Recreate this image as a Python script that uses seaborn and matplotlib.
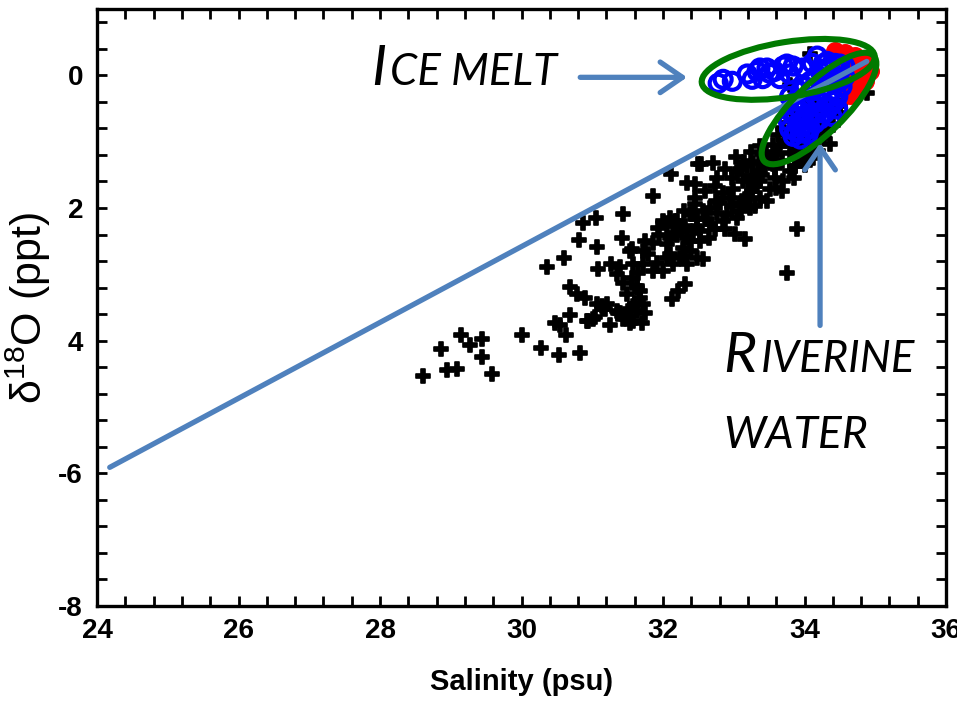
import matplotlib
matplotlib.use("Agg")
import matplotlib.pyplot as plt
import seaborn as sns
import pandas as pd
from matplotlib.patches import Ellipse
from matplotlib.transforms import ScaledTranslation
from matplotlib.ticker import MultipleLocator
from matplotlib.offsetbox import TextArea, HPacker, AnnotationBbox
from matplotlib import font_manager as fm

# ---------------- data ----------------
black_sal = [28.61, 28.86, 28.95, 29.09, 29.14, 29.27, 29.44, 29.44, 29.58, 30.01,
             30.28, 30.53, 30.83, 30.47, 30.54, 30.63, 30.69, 30.93, 31.04, 31.14,
             31.25, 31.36, 31.49, 31.58, 31.70, 31.63, 31.75, 30.36, 30.60, 30.81,
             30.87, 31.05, 31.43, 31.07, 31.42, 31.86, 32.11, 32.49, 32.34, 32.45,
             30.69, 30.78, 30.90, 31.07, 31.15, 31.08, 31.27, 31.39, 31.35, 31.43,
             31.49, 31.56, 31.58, 31.65, 31.63, 31.67, 31.53, 31.75, 31.86, 31.79,
             31.86, 32.00, 32.10, 31.93, 32.06, 32.10, 32.20, 32.31, 32.06, 32.14,
             32.24, 32.34, 32.38, 32.41, 32.45, 32.48, 32.13, 32.21, 32.31, 31.39,
             31.53, 31.60, 31.35, 31.18, 30.94, 31.01, 31.43, 31.53, 31.72, 31.56,
             31.72, 31.92, 32.00, 31.63, 31.67, 31.21, 31.58, 31.72, 32.28, 32.52,
             32.66, 32.52, 32.42, 32.34, 32.14, 32.27, 32.17, 32.48, 32.57, 32.31,
             32.10, 33.02, 33.16, 33.89, 33.75, 32.54, 32.71, 33.03, 32.88, 32.98,
             32.76, 32.73, 32.85, 32.99, 33.13, 33.26, 33.30, 33.19, 33.09, 32.98,
             32.81, 32.66, 32.57, 32.38, 32.48, 32.62, 32.76, 32.90, 33.05, 33.23,
             33.37, 33.47, 33.51, 33.68, 33.58, 33.70, 33.55, 33.47, 33.40, 33.61,
             33.27, 33.19, 34.08, 34.50, 34.88, 34.36, 34.26, 33.94, 33.79, 33.34,
             33.44, 33.51, 33.65, 33.72, 33.79, 33.87, 34.01, 34.15, 34.22, 34.33,
             34.43, 34.33, 34.15, 34.01, 33.91, 33.79, 33.68, 33.58, 33.37, 33.26,
             33.16, 33.09, 33.37, 33.82, 34.05, 34.11, 33.94, 33.79, 33.30, 32.73,
             32.88, 34.61, 34.71, 34.57, 34.19, 34.05, 33.87,
             33.05, 33.15, 33.25, 33.35, 33.45, 33.55, 33.62, 33.70, 33.85, 33.95,
             34.05, 34.15, 33.20, 33.40, 33.60, 33.85, 34.00, 34.12, 34.28, 34.40,
             32.95, 33.10, 32.75, 32.60, 32.45, 32.30, 32.20, 32.05, 31.95, 32.40,
             32.65, 32.85]
black_d18o = [-4.53, -4.12, -4.44, -4.42, -3.92, -4.06, -3.98, -4.24, -4.50, -3.91,
              -4.11, -4.21, -4.18, -3.74, -3.77, -3.91, -3.62, -3.71, -3.65, -3.47,
              -3.76, -3.59, -3.67, -3.71, -3.74, -3.55, -3.59, -2.89, -2.75, -2.48,
              -2.23, -2.15, -2.09, -2.59, -2.45, -1.82, -1.49, -1.34, -1.62, -1.64,
              -3.19, -3.29, -3.35, -3.44, -3.50, -2.92, -2.84, -2.89, -2.99, -3.13,
              -3.29, -3.05, -2.84, -2.98, -3.17, -3.25, -2.65, -2.50, -2.53, -2.69,
              -2.95, -2.20, -2.15, -2.30, -2.27, -2.45, -2.20, -2.27, -2.75, -2.84,
              -2.75, -2.84, -2.50, -2.09, -1.94, -2.30, -3.37, -3.25, -3.14, -3.59,
              -3.52, -3.44, -3.55, -3.52, -3.70, -3.67, -3.67, -3.74, -2.65, -2.62,
              -2.84, -2.83, -2.95, -3.20, -3.35, -3.44, -3.47, -3.44, -2.60, -2.35,
              -2.24, -2.50, -2.35, -2.45, -2.39, -2.32, -2.20, -2.75, -2.77, -2.72,
              -2.69, -2.39, -2.47, -2.32, -2.98, -1.34, -1.32, -1.23, -1.41, -1.55,
              -1.55, -1.67, -1.77, -1.71, -1.59, -1.52, -1.67, -1.82, -1.92, -1.97,
              -1.92, -2.00, -2.05, -2.09, -2.17, -2.17, -2.08, -2.09, -2.15, -2.00,
              -1.85, -1.89, -1.71, -1.74, -1.55, -1.59, -1.34, -1.25, -1.19, -1.19,
              -1.32, -1.37, 0.32, -0.57, -0.27, -1.04, -0.74, -0.99, -0.14, -1.44,
              -1.37, -1.29, -1.07, -0.99, -0.92, -0.84, -0.69, -0.59, -0.51, -0.44,
              -0.54, -0.80, -0.87, -0.99, -1.11, -1.17, -1.29, -1.40, -1.59, -1.74,
              -1.86, -1.41, -1.07, -0.57, -0.36, -1.07, -1.29, -1.44, -1.97, -2.32,
              -2.32, -0.24, -0.21, -0.39, -1.14, -1.22, -1.37,
              -1.45, -1.30, -1.15, -1.30, -1.15, -1.05, -0.90, -0.80, -0.70, -0.60,
              -0.50, -0.45, -1.60, -1.50, -1.70, -1.55, -1.35, -1.25, -0.95, -0.75,
              -1.85, -2.05, -1.90, -1.75, -1.85, -2.05, -2.40, -2.55, -2.40, -2.65,
              -2.45, -2.20]

red_sal = [34.43, 34.57, 34.71, 34.81, 34.90, 34.93, 34.85, 34.76, 34.64, 34.57,
           34.78, 34.64, 34.50, 34.71, 34.61]
red_d18o = [0.36, 0.33, 0.29, 0.24, 0.18, 0.06, -0.09, -0.21, -0.29, -0.17,
            0.09, 0.14, 0.21, -0.02, -0.06]

blue_sal = [32.78, 32.85, 32.98, 33.19, 33.26, 33.33, 33.37, 33.41, 33.47, 33.51,
            33.58, 33.65, 33.70, 33.75, 33.79, 33.84, 33.98, 34.11, 34.18, 34.26,
            34.32, 34.50,
            33.79, 33.87, 33.94, 34.01, 34.08, 34.15, 34.22, 34.29, 34.36, 34.43,
            34.50, 34.57, 34.53, 34.47, 34.43, 34.36, 34.29, 34.22, 34.15, 34.08,
            34.01, 33.94, 33.87, 33.79, 33.77, 33.79, 33.87, 33.94, 34.01, 34.08,
            34.15, 34.22, 34.29, 34.36, 34.43, 34.33, 34.19, 34.05, 33.91, 34.11,
            34.25, 34.39, 34.18, 33.98, 33.84, 33.94, 34.05, 34.57, 34.50, 34.47,
            34.39]
blue_d18o = [-0.12, -0.06, -0.09, 0.02, -0.06, 0.06, 0.11, -0.05, 0.11, 0.03,
             0.06, -0.05, 0.14, 0.17, 0.02, 0.14, 0.11, 0.18, 0.29, 0.17,
             0.21, 0.17,
             -0.32, -0.39, -0.24, -0.17, -0.09, -0.02, 0.06, 0.09, 0.14, 0.18,
             0.06, -0.02, -0.17, -0.32, -0.39, -0.47, -0.57, -0.66, -0.72, -0.80,
             -0.84, -0.87, -0.84, -0.81, -0.69, -0.54, -0.62, -0.54, -0.47, -0.39,
             -0.32, -0.24, -0.17, -0.09, -0.06, -0.32, -0.47, -0.62, -0.72, -0.21,
             -0.09, -0.24, -0.57, -0.66, -0.92, -0.96, -0.89, 0.14, -0.09, -0.51,
             -0.62]

mix_line_sal = [24.18, 34.88]
mix_line_d18o = [-5.91, 0.21]

x_ticks = [24, 26, 28, 30, 32, 34, 36]
x_tick_labels = ["24", "26", "28", "30", "32", "34", "36"]
y_ticks = [0, -2, -4, -6, -8]
y_tick_labels = ["0", "2", "4", "-6", "-8"]

# ---------------- style ----------------
sns.set_style("ticks")
names = {f.name for f in fm.fontManager.ttflist}
tick_font = "Liberation Sans Narrow" if "Liberation Sans Narrow" in names else "Liberation Sans"
note_font = "Lato" if "Lato" in names else "DejaVu Sans"
plt.rcParams["font.family"] = ["Liberation Sans", "DejaVu Sans"]
plt.rcParams["mathtext.fontset"] = "custom"
plt.rcParams["mathtext.rm"] = "Liberation Sans"
plt.rcParams["mathtext.it"] = "Liberation Sans:italic"
plt.rcParams["mathtext.bf"] = "Liberation Sans:bold"
for key in ["text.color", "axes.labelcolor", "xtick.color", "ytick.color", "axes.edgecolor"]:
    plt.rcParams[key] = "black"

fig = plt.figure(figsize=(9.57, 7.01), dpi=100)
ax = fig.add_axes([97 / 957, 1 - 606 / 701, 849 / 957, 597 / 701])

black_df = pd.DataFrame({"sal": black_sal, "d18o": black_d18o})
red_df = pd.DataFrame({"sal": red_sal, "d18o": red_d18o})
blue_df = pd.DataFrame({"sal": blue_sal, "d18o": blue_d18o})
line_df = pd.DataFrame({"sal": mix_line_sal, "d18o": mix_line_d18o})

sns.scatterplot(data=black_df, x="sal", y="d18o", ax=ax, marker="P", s=105,
                color="black", edgecolor="black", linewidth=1.2, zorder=2)
ax.collections[-1].set_joinstyle("round")
sns.scatterplot(data=red_df, x="sal", y="d18o", ax=ax, marker="o", s=160,
                color="#ff0000", edgecolor="#ff0000", linewidth=1, zorder=3)
sns.scatterplot(data=blue_df, x="sal", y="d18o", ax=ax, marker="o", s=150,
                color="#0000ff", zorder=4)
coll = ax.collections[-1]
coll.set_facecolor("none")
coll.set_edgecolor("#0000ff")
coll.set_linewidth(3.0)

sns.lineplot(data=line_df, x="sal", y="d18o", ax=ax, color="#4f81bd",
             linewidth=3.8, zorder=5, estimator=None, sort=False)

# green ellipses (sized in pixels, centred in data coordinates)
for cx, cy, w, h, ang in [(33.77, 0.09, 175, 55, 9), (34.205, -0.50, 152, 50, 44)]:
    e = Ellipse((0, 0), w, h, angle=ang, fill=False, edgecolor="#007a00",
                linewidth=4.4, transform=ScaledTranslation(cx, cy, ax.transData),
                zorder=6, clip_on=False)
    ax.add_patch(e)

# arrows
arrow_kw = dict(arrowstyle="->,head_length=0.8,head_width=0.55", color="#4f81bd",
                lw=3.8, shrinkA=0, shrinkB=0, mutation_scale=20)
ax.annotate("", xy=(32.34, -0.03), xytext=(30.83, -0.03), arrowprops=arrow_kw, zorder=7)
ax.annotate("", xy=(34.22, -1.02), xytext=(34.22, -3.77), arrowprops=arrow_kw, zorder=7)

# small-caps italic labels
def small_caps(big, small, xy, small_size=31.5, sep=3):
    big_kw = dict(fontsize=41, style="italic", family=note_font, color="black")
    small_kw = dict(fontsize=small_size, style="italic", family=note_font, color="black")
    parts = []
    if big:
        parts.append(TextArea(big, textprops=big_kw))
    parts.append(TextArea(small, textprops=small_kw))
    pack = HPacker(children=parts, align="baseline", pad=0, sep=sep)
    ab = AnnotationBbox(pack, xy, xycoords="data", box_alignment=(0, 0),
                        frameon=False, pad=0, annotation_clip=False)
    ax.add_artist(ab)

small_caps("I", "CE MELT", (27.87, -0.30))
small_caps("R", "IVERINE", (32.85, -4.62))
small_caps("", "WATER", (32.85, -5.74), small_size=32)

# axes
ax.set_xlim(24, 36)
ax.set_ylim(-8, 1)
ax.set_xticks(x_ticks, labels=x_tick_labels)
ax.set_yticks(y_ticks, labels=y_tick_labels)
ax.xaxis.set_minor_locator(MultipleLocator(0.4))
ax.yaxis.set_minor_locator(MultipleLocator(0.4))
ax.tick_params(which="both", direction="in", top=True, right=True,
               length=7, width=2, color="black")
ax.tick_params(axis="x", which="major", pad=9)
ax.tick_params(axis="y", which="major", pad=10)
for lab in ax.get_xticklabels() + ax.get_yticklabels():
    lab.set_fontfamily(tick_font)
    lab.set_fontweight("bold")
    lab.set_fontsize(20)
    lab.set_color("black")
for sp in ax.spines.values():
    sp.set_linewidth(2.4)
    sp.set_color("black")

ax.set_xlabel("Salinity (psu)", fontsize=21, fontweight="bold", family=tick_font,
              labelpad=17, color="black")
ax.set_ylabel("δ$^{\\mathregular{18}}$O (ppt)", fontsize=31, family="Liberation Sans",
              labelpad=4, color="black")

fig.savefig("out.png", dpi=100)
